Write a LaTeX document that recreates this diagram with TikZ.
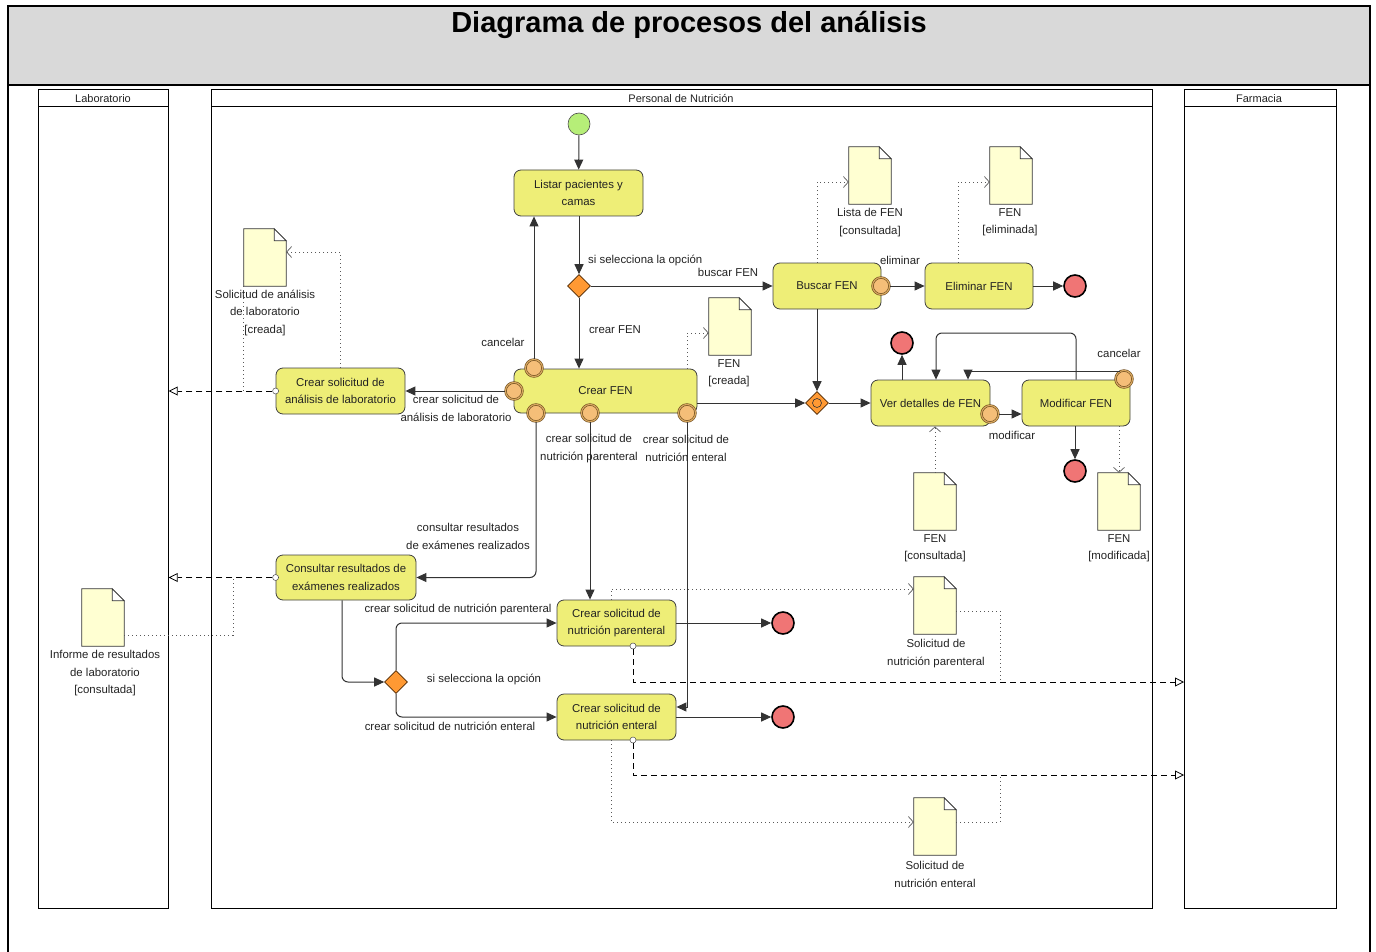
\documentclass[tikz,border=0pt]{standalone}
\usepackage{fontspec}
\setmainfont{Liberation Sans}
\usetikzlibrary{arrows.meta,shapes.geometric,calc}

\definecolor{actfill}{HTML}{EEEE77}
\definecolor{docfill}{HTML}{FFFFD2}
\definecolor{pinfill}{HTML}{F5BE78}
\definecolor{pinedge}{HTML}{6E4B1E}
\definecolor{pinring}{HTML}{D8A860}
\definecolor{endfill}{HTML}{F07575}
\definecolor{startfill}{HTML}{B6EE78}
\definecolor{gwfill}{HTML}{FF9933}
\definecolor{titlefill}{HTML}{D9D9D9}
\definecolor{ink}{HTML}{222222}

\tikzset{
  txt/.style={font=\fontsize{11.4}{17.5}\selectfont, text=ink, align=center, inner sep=0pt},
  act/.style={draw=black!75, fill=actfill, rounded corners=7pt, line width=0.8pt,
    align=center, font=\fontsize{11.4}{17.5}\selectfont, text=ink, minimum height=46pt, inner sep=1pt},
  startn/.style={circle, minimum size=22pt, inner sep=0pt, fill=startfill, draw=black!70, line width=0.6pt},
  endn/.style={circle, minimum size=22pt, inner sep=0pt, fill=endfill, draw=black, line width=1.6pt},
  gw/.style={diamond, minimum width=23pt, minimum height=23pt, inner sep=0pt, fill=gwfill, draw=black!70!orange, line width=0.6pt},
  pin/.style={circle, minimum size=17pt, inner sep=0pt, fill=pinfill, draw=pinedge, double=pinring, double distance=1.2pt, line width=0.6pt},
  outpin/.style={circle, minimum size=6pt, inner sep=0pt, fill=white, draw=black!70, line width=0.5pt},
  docbox/.style={minimum width=42pt, minimum height=57pt, inner sep=0pt},
  docline/.style={draw=black!80, fill=docfill, line width=0.7pt},
  lane/.style={draw=black, line width=0.7pt, anchor=north west, inner sep=0pt},
  lanehead/.style={font=\fontsize{11}{12}\selectfont, text=ink},
  flow/.style={draw=black!80, line width=1pt, -{Triangle[length=10pt,width=9pt]}},
  assoc/.style={draw=black!65, line width=0.7pt, dash pattern=on 1pt off 3pt,
    -{Straight Barb[length=5pt,width=11pt,line width=0.7pt]}},
  assocplain/.style={draw=black!65, line width=0.7pt, dash pattern=on 1pt off 3pt},
  objflow/.style={draw=black, line width=0.8pt, dash pattern=on 6pt off 4pt,
    -{Triangle[open,length=9pt,width=9pt,line width=0.8pt]}},
}

% document symbol with folded corner
\newcommand{\docsym}[3]{%
  \node[docbox] (#1) at (#2,#3) {};
  \draw[docline] (#1.south west) -- (#1.north west) -- ([xshift=-12pt]#1.north east)
    -- ([yshift=-12pt]#1.north east) -- (#1.south east) -- cycle;
  \draw[docline, fill=white] ([xshift=-12pt]#1.north east) -- ([yshift=-12pt]#1.north east)
    -- ([xshift=-12pt,yshift=-12pt]#1.north east) -- cycle;
}

\begin{document}
\begin{tikzpicture}[x=1pt,y=-1pt]
\useasboundingbox (0,0) rectangle (1376,952);

% frame and title band
\draw[line width=1.4pt] (8,85) -- (8,952);
\draw[line width=1.4pt] (1370,85) -- (1370,952);
\draw[line width=2pt, fill=titlefill] (8,6) rectangle (1370,85);
\node[font=\fontsize{29}{32}\selectfont\bfseries] (titulo) at (689,25) {Diagrama de procesos del análisis};

% swimlanes
\node[lane, minimum width=130pt, minimum height=819pt] (lab) at (38,89) {};
\node[lane, minimum width=941pt, minimum height=819pt] (nut) at (211,89) {};
\node[lane, minimum width=152pt, minimum height=819pt] (farm) at (1184,89) {};
\draw[line width=0.7pt] (lab.north west |- 0,106) -- (lab.north east |- 0,106);
\draw[line width=0.7pt] (nut.north west |- 0,106) -- (nut.north east |- 0,106);
\draw[line width=0.7pt] (farm.north west |- 0,106) -- (farm.north east |- 0,106);
\node[lanehead] (hlab) at (103,98.5) {Laboratorio};
\node[lanehead] (hnut) at (681,98.5) {Personal de Nutrición};
\node[lanehead] (hfarm) at (1259,98.5) {Farmacia};

% actions
\node[startn] (ini) at (579,124) {};
\node[act, minimum width=129pt] (listar) at (578.5,193) {Listar pacientes y\\camas};
\node[gw] (d1) at (579,286) {};
\node[act, minimum width=108pt] (buscar) at (827,286) {Buscar FEN};
\node[act, minimum width=108pt] (eliminar) at (979,286) {Eliminar FEN};
\node[endn] (fin1) at (1075,286) {};
\node[act, minimum width=183pt, minimum height=44pt] (crearfen) at (605.5,391) {Crear FEN};
\node[act, minimum width=129pt] (crearlab) at (340.5,391) {Crear solicitud de\\análisis de laboratorio};
\node[gw] (d2) at (817,403) {};
\node[circle, draw=black!80, line width=0.6pt, minimum size=9pt, inner sep=0pt] (d2c) at (817,403) {};
\node[act, minimum width=119pt] (ver) at (930.5,403) {Ver detalles de FEN};
\node[endn] (fin2) at (902,343) {};
\node[act, minimum width=108pt] (modif) at (1076,403) {Modificar FEN};
\node[endn] (fin3) at (1075,471) {};
\node[act, minimum width=140pt, minimum height=45pt] (consultar) at (346,577.5) {Consultar resultados de\\exámenes realizados};
\node[act, minimum width=119pt] (parent) at (616.5,623) {Crear solicitud de\\nutrición parenteral};
\node[endn] (fin4) at (783,623) {};
\node[gw] (d3) at (396,682) {};
\node[act, minimum width=119pt] (enteral) at (616.5,717) {Crear solicitud de\\nutrición enteral};
\node[endn] (fin5) at (783,717) {};

% pins
\node[pin] (p1) at (534,368) {};
\node[pin] (p2) at (514,391) {};
\node[pin] (p3) at (536,413) {};
\node[pin] (p4) at (590,413) {};
\node[pin] (p5) at (687,413) {};
\node[pin] (pb) at (881,286) {};
\node[pin] (pv) at (990,414) {};
\node[pin] (pm) at (1124,379) {};
\node[outpin] (oc1) at (crearlab.west) {};
\node[outpin] (oc2) at (consultar.west) {};
\node[outpin] (oc3) at (633,646) {};
\node[outpin] (oc4) at (633,740) {};

% data objects
\docsym{docsal}{265}{257.5}
\docsym{doclista}{870}{175.5}
\docsym{docelim}{1011}{175.5}
\docsym{doccreada}{730}{326.5}
\docsym{docconsul}{935}{501.5}
\docsym{docmod}{1119}{501.5}
\docsym{docpar}{935}{605.5}
\docsym{docent}{935}{826.5}
\docsym{docinf}{103}{617.5}

\node[txt] (tsal) at (265,312.5) {Solicitud de análisis\\de laboratorio\\{[creada]}};
\node[txt] (tlista) at (870,222.5) {Lista de FEN\\{[consultada]}};
\node[txt] (telim) at (1010,222.5) {FEN\\{[eliminada]}};
\node[txt] (tcreada) at (729,373.5) {FEN\\{[creada]}};
\node[txt] (tconsul) at (935,548.5) {FEN\\{[consultada]}};
\node[txt] (tmod) at (1119,548.5) {FEN\\{[modificada]}};
\node[txt] (tpar) at (936,653.5) {Solicitud de\\nutrición parenteral};
\node[txt] (tent) at (935,874.5) {Solicitud de\\nutrición enteral};
\node[txt] (tinf) at (105,673.5) {Informe de resultados\\de laboratorio\\{[consultada]}};

% control flows
\draw[flow] (ini) -- (listar);
\draw[flow] (listar.south -| d1) -- (d1.north);
\draw[flow] (d1.east) -- (buscar.west);
\draw[flow] (d1.south) -- (d1.south |- crearfen.north);
\draw[flow] (p1.north) -- (p1.north |- listar.south);
\draw[flow] (p2.west) -- (crearlab.east);
\draw[flow, rounded corners=6pt] (p3.south) |- (consultar.east);
\draw[flow] (p4.south) -- (p4.south |- parent.north);
\draw[flow] (p5.south) |- ($(enteral.east)+(0,-10)$);
\draw[flow] (crearfen.east |- d2) -- (d2.west);
\draw[flow] (buscar.south -| d2) -- (d2.north);
\draw[flow] (pb.east) -- (eliminar.west);
\draw[flow] (eliminar.east) -- (fin1.west);
\draw[flow] (d2.east) -- (ver.west);
\draw[flow] (ver.north -| fin2) -- (fin2.south);
\draw[flow] (pv.east) -- (modif.west |- pv);
\draw[flow, rounded corners=6pt] (modif.north) |- (936,333) -- ([xshift=5.5pt]ver.north);
\draw[flow] (pm.115) -| ([xshift=37.5pt]ver.north);
\draw[flow] (modif.south -| fin3) -- (fin3.north);
\draw[flow, rounded corners=6pt] ([xshift=-4pt]consultar.south) |- (d3.west);
\draw[flow, rounded corners=6pt] (d3.north) |- (parent.west);
\draw[flow, rounded corners=6pt] (d3.south) |- (enteral.west);
\draw[flow] (parent.east) -- (fin4.west);
\draw[flow] (enteral.east) -- (fin5.west);

% object flows to other lanes
\draw[objflow] (oc1.west) -- (oc1 -| lab.east);
\draw[objflow] (oc2.west) -- (oc2 -| lab.east);
\draw[objflow] (oc3.south) |- (farm.west |- d3);
\coordinate (ent2farm) at (1184,775);
\draw[objflow] (oc4.south) |- (ent2farm);

% associations with data objects
\draw[assoc] (crearlab.north) |- ([yshift=5.5pt]docsal.east);
\draw[assocplain] (docsal.south west) -- (docsal.south west |- oc1);
\draw[assoc] (crearfen.north -| p5) |- ([yshift=-6.5pt]doccreada.west);
\draw[assoc] ([xshift=-10pt]buscar.north) |- ([yshift=-6.5pt]doclista.west);
\draw[assoc] ([xshift=-21pt]eliminar.north) |- ([yshift=-6.5pt]docelim.west);
\draw[assoc] (docconsul.north) -- (docconsul.north |- ver.south);
\draw[assoc] (docmod.north |- modif.south) -- (docmod.north);
\draw[assoc] ([xshift=-5.5pt]parent.north) |- ([yshift=16.5pt]docpar.west);
\coordinate (parjoin) at (1000,682);
\draw[assocplain] ([yshift=-5.5pt]docpar.east) -| (parjoin);
\draw[assoc] ([xshift=-5.5pt]enteral.south) |- ([yshift=4.5pt]docent.west);
\coordinate (entjoin) at (1000,775);
\draw[assocplain] ([yshift=4.5pt]docent.east) -| (entjoin);
\coordinate (infjoin) at (233,577.5);
\draw[assocplain] ([yshift=-17.5pt]docinf.east) -| (infjoin);

% flow labels
\node[txt, anchor=west] (l1) at (588,260) {si selecciona la opción};
\node[txt] (l2) at (728,272) {buscar FEN};
\node[txt] (l3) at (615,330) {crear FEN};
\node[txt] (l4) at (503,342) {cancelar};
\node[txt] (l5) at (456,408.5) {crear solicitud de\\análisis de laboratorio};
\node[txt] (l6) at (900,260) {eliminar};
\node[txt] (l7) at (1119,353) {cancelar};
\node[txt] (l8) at (1012,435) {modificar};
\node[txt] (l9) at (589,448.5) {crear solicitud de\\nutrición parenteral};
\node[txt] (l10) at (686,448.5) {crear solicitud de\\nutrición enteral};
\node[txt] (l11) at (468,536.5) {consultar resultados\\de exámenes realizados};
\node[txt] (l12) at (458,609) {crear solicitud de nutrición parenteral};
\node[txt] (l13) at (484,679) {si selecciona la opción};
\node[txt] (l14) at (450,726) {crear solicitud de nutrición enteral};
\end{tikzpicture}
\end{document}
